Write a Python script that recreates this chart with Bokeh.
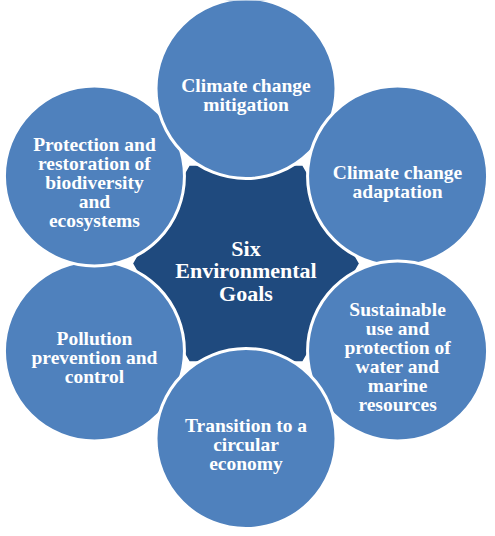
import math
from bokeh.plotting import figure
from bokeh.models import Range1d, ColumnDataSource
from bokeh.core.properties import value
from bokeh.embed import file_html
from bokeh.resources import INLINE

# ---- data ----
center_lines = ["Six", "Environmental", "Goals"]
goal_lines = [
    ["Climate change", "mitigation"],
    ["Climate change", "adaptation"],
    ["Sustainable", "use and", "protection of", "water and", "marine", "resources"],
    ["Transition to a", "circular", "economy"],
    ["Pollution", "prevention and", "control"],
    ["Protection and", "restoration of", "biodiversity", "and", "ecosystems"],
]
goal_angles = [90, 30, -30, -90, -150, 150]      # degrees, position around hub
draw_order = [4, 5, 0, 1, 2, 3]                   # stacking of the circles

# ---- layout / style ----
CX, CY = 253.5, 271.0
RING = 175.0
R_CIRCLE = 90.0
R_HEX = 114.0
CIRCLE_FILL = "#4F81BD"
HUB_FILL = "#1F4A7E"
FONT = value("Liberation Serif")
LH_GOAL, FS_GOAL, CAP_GOAL = 19.0, 19.5, 12.2
LH_HUB, FS_HUB, CAP_HUB = 22.5, 22, 14.0

W, H = 487, 528
p = figure(width=W, height=H, output_backend="svg", toolbar_location=None,
           x_range=Range1d(8, 8 + W), y_range=Range1d(8 + H, 8),
           min_border=0, tools="")
p.axis.visible = False
p.grid.visible = False
p.outline_line_color = None
p.background_fill_color = "white"
p.border_fill_color = "white"

# hub (hexagon, circles cut its sides into concave arcs)
hx = [CX + R_HEX * math.cos(math.radians(a)) for a in range(0, 360, 60)]
hy = [CY - R_HEX * math.sin(math.radians(a)) for a in range(0, 360, 60)]
p.patch(hx, hy, fill_color=HUB_FILL, line_color="white", line_width=2)

# circles
centers = [(CX + RING * math.cos(math.radians(a)), CY - RING * math.sin(math.radians(a)))
           for a in goal_angles]
for i in draw_order:
    x, y = centers[i]
    p.circle(x=[x], y=[y], radius=R_CIRCLE, fill_color=CIRCLE_FILL,
             line_color="white", line_width=3)

# goal labels
tx, ty, tt = [], [], []
for (x, y), lines in zip(centers, goal_lines):
    n = len(lines)
    for k, s in enumerate(lines):
        tx.append(x)
        ty.append(y + (k - (n - 1) / 2) * LH_GOAL + CAP_GOAL / 2)
        tt.append(s)
p.text(x="x", y="y", text="t", source=ColumnDataSource(dict(x=tx, y=ty, t=tt)),
       text_font=FONT, text_font_style="bold", text_font_size=f"{FS_GOAL}px",
       text_align="center", text_baseline="alphabetic", text_color="white")

# hub label
n = len(center_lines)
cy_list = [CY + (k - (n - 1) / 2) * LH_HUB + CAP_HUB / 2 for k in range(n)]
p.text(x=[CX] * n, y=cy_list, text=center_lines,
       text_font=FONT, text_font_style="bold", text_font_size=f"{FS_HUB}px",
       text_align="center", text_baseline="alphabetic", text_color="white")

open("out.html", "w").write(file_html(p, INLINE))
